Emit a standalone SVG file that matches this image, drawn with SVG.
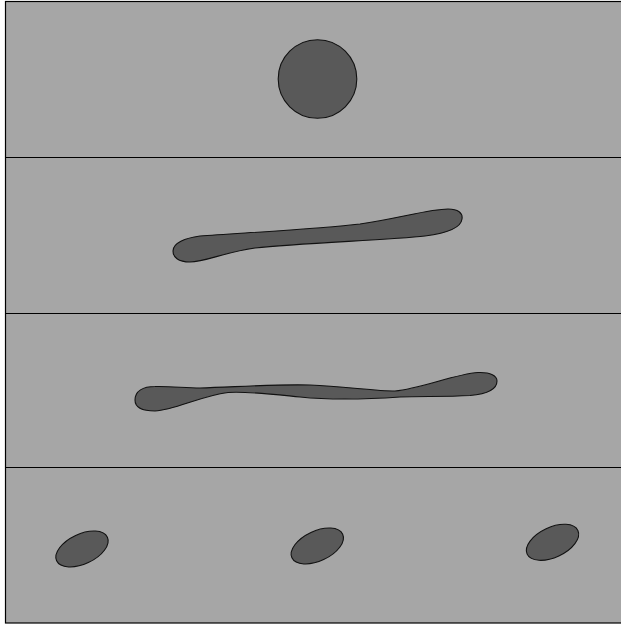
<svg xmlns="http://www.w3.org/2000/svg" width="621" height="625" viewBox="0 0 621 625">
<style>
.bg{fill:#a6a6a6;stroke:#000;stroke-width:1.2}
.sep{stroke:#000;stroke-width:1.2;fill:none}
.blob{fill:#595959;stroke:#111;stroke-width:1.1}
</style>
<rect class="bg" x="5.5" y="1.5" width="625" height="621.5"/>
<line class="sep" x1="5.5" y1="157.5" x2="625" y2="157.5"/>
<line class="sep" x1="5.5" y1="313.5" x2="625" y2="313.5"/>
<line class="sep" x1="5.5" y1="467.5" x2="625" y2="467.5"/>
<g id="panel1">
<circle class="blob" cx="317.5" cy="79" r="39.3"/>
</g>
<g id="panel2">
<path class="blob" d="M173,251 C173,243 185,238 200,236 C240,233 320,229 360,224 C400,218 430,209 448,209 C458,209 463,213 462,219 C461,228 448,233 425,236 C390,240 300,243 255,248 C225,252 205,262 190,262 C178,262 173,257 173,251 Z"/>
</g>
<g id="panel3">
<path class="blob" d="M135,400 C135,391 143,386.5 155,386.5 C170,386 185,388 200,388 C235,387 275,384 310,385 C345,386.5 375,391 395,391 C420,389 455,374 478,372.5 C491,372 497,376 497,381 C497,390 487,394 470,395.5 C445,397 420,396 400,397 C370,399 330,400 300,397 C270,394 245,391 228,392.5 C200,396 175,410 155,411 C142,411 135,407 135,400 Z"/>
</g>
<g id="panel4">
<ellipse class="blob" cx="82" cy="549" rx="28" ry="15" transform="rotate(-25 82 549)"/>
<ellipse class="blob" cx="317.3" cy="546" rx="28" ry="15" transform="rotate(-25 317.3 546)"/>
<ellipse class="blob" cx="552.5" cy="542.3" rx="28" ry="15" transform="rotate(-25 552.5 542.3)"/>
</g>
</svg>
